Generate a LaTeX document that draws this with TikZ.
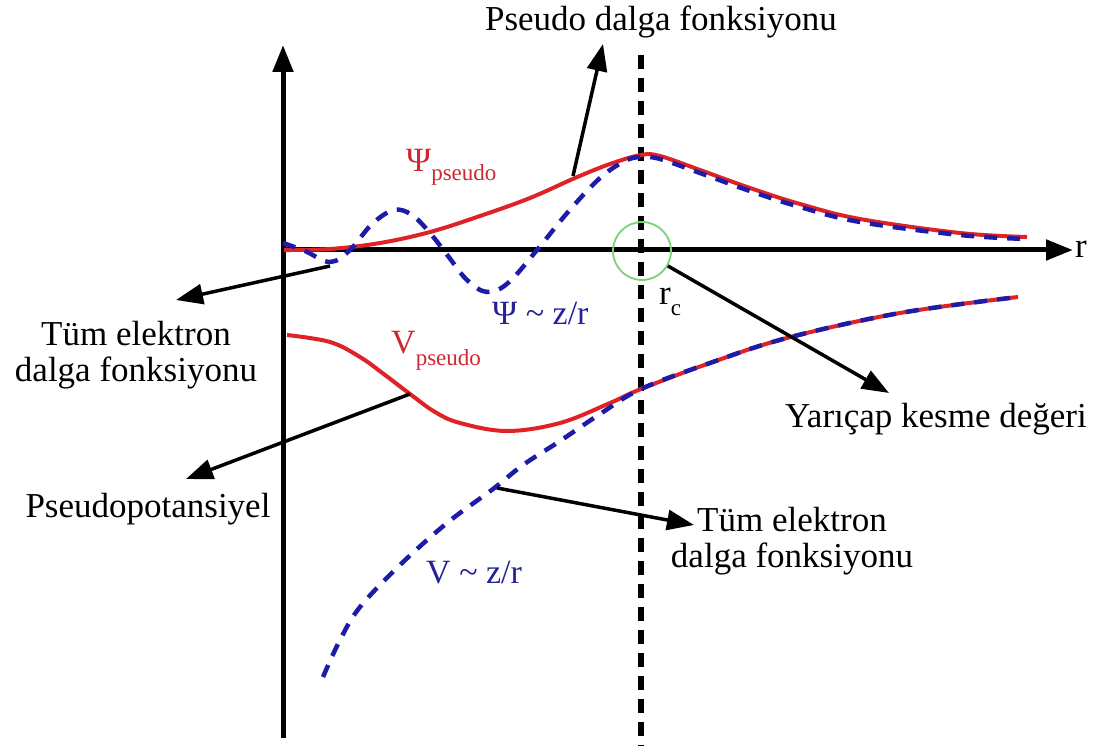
\documentclass[tikz,border=0pt]{standalone}
\usepackage{fontspec}
\setmainfont{Liberation Serif}
\usetikzlibrary{arrows.meta}
\definecolor{cred}{RGB}{222,34,38}
\definecolor{cblue}{RGB}{28,28,168}
\definecolor{cgreen}{RGB}{120,210,120}
\definecolor{tred}{RGB}{205,40,50}
\definecolor{tblue}{RGB}{35,35,150}
\tikzset{
  axisline/.style={line width=5pt, -{Triangle[length=27pt,width=20pt]}},
  cutline/.style={line width=6pt, dash pattern=on 14pt off 9pt},
  redcurve/.style={cred, line width=4pt},
  bluecurve/.style={cblue, line width=4.5pt, dash pattern=on 13pt off 10pt},
  pointer/.style={line width=3.5pt, -{Triangle[length=27pt,width=20pt]}},
  lbl/.style={font=\fontsize{35}{36}\selectfont, inner sep=0pt, align=center},
  clbl/.style={font=\fontsize{34}{36}\selectfont, inner sep=0pt},
}
\newcommand{\subtxt}[1]{{\fontsize{23}{24}\selectfont #1}}
\begin{document}
\begin{tikzpicture}[x=1pt,y=-1pt]
\useasboundingbox (0,0) rectangle (1104,746);
% axes
\coordinate (vbot) at (283,738);
\coordinate (vtop) at (283,45);
\coordinate (hleft) at (283,250);
\coordinate (hright) at (1073,250);
\coordinate (ctop) at (641,55);
\coordinate (cbot) at (641,746);
\draw[axisline] (vbot) -- (vtop);
\draw[axisline] (hleft) -- (hright);
\draw[cutline] (ctop) -- (cbot);
% curves
\draw[redcurve] plot[smooth, tension=0.6] coordinates {(284,250) (330,249) (380,243) (430,232) (480,216) (530,198) (575,178) (610,164) (641,155) (660,156) (700,170) (750,188) (800,204) (860,219) (960,233) (1027,237)};
\draw[bluecurve] plot[smooth, tension=0.6] coordinates {(283,243) (305,251) (330,262) (350,250) (372,224) (394,210) (412,215) (430,233) (448,256) (467,280) (487,292) (508,283) (537,250) (568,212) (600,178) (625,161) (641,157) (660,159) (700,173) (750,191) (800,207) (860,222) (960,235) (1027,239)};
\draw[redcurve] plot[smooth, tension=0.6] coordinates {(287,335) (330,342) (360,357) (385,375) (410,394) (435,412) (460,423) (507,431) (560,423) (610,403) (641,389) (710,363) (787,338) (900,313) (1018,297)};
\draw[bluecurve] plot[smooth, tension=0.6] coordinates {(323,677) (340,640) (360,607) (400,565) (447,523) (493,489) (523,465) (560,441) (600,414) (641,389) (710,363) (787,338) (900,313) (1018,297)};
% cut-off circle
\node[draw=cgreen, line width=1.8pt, circle, minimum size=58pt, inner sep=0pt] (rcirc) at (642,251) {};
% labels
\node[lbl, anchor=base] (ltop) at (661,31) {Pseudo dalga fonksiyonu};
\node[lbl] (lleft) at (136,355) {Tüm elektron\\dalga fonksiyonu};
\node[lbl, anchor=base] (lpp) at (148,517) {Pseudopotansiyel};
\node[lbl, anchor=base] (lrc) at (936,427) {Yarıçap kesme değeri};
\node[lbl] (lright) at (792,541) {Tüm elektron\\dalga fonksiyonu};
\node[lbl, anchor=base west] (lr) at (1075,258) {r};
\node[lbl, anchor=base west] (lrcut) at (659,305) {r\raisebox{-0.3em}{\subtxt{c}}};
\node[clbl, anchor=base west, text=tred] (lpsip) at (406,172) {Ψ\raisebox{-0.25em}{\subtxt{pseudo}}};
\node[clbl, anchor=base west, text=tred] (lvp) at (391,353) {V\raisebox{-0.38em}{\subtxt{pseudo}}};
\node[clbl, anchor=base west, text=tblue] (lpsi) at (492,325) {Ψ \textasciitilde{} z/r};
\node[clbl, anchor=base west, text=tblue] (lv) at (426,583) {V \textasciitilde{} z/r};
% pointers
\coordinate (pA) at (573,176); \coordinate (tA) at (603,44);
\coordinate (pB) at (330,266); \coordinate (tB) at (176,300);
\coordinate (pC) at (410,394); \coordinate (tC) at (186,479);
\coordinate (tD) at (889,393);
\coordinate (pE) at (497,488); \coordinate (tE) at (694,525);
\draw[pointer] (pA) -- (tA);
\draw[pointer] (pB) -- (tB);
\draw[pointer] (pC) -- (tC);
\draw[pointer] (rcirc.-30) -- (tD);
\draw[pointer] (pE) -- (tE);
\end{tikzpicture}
\end{document}
